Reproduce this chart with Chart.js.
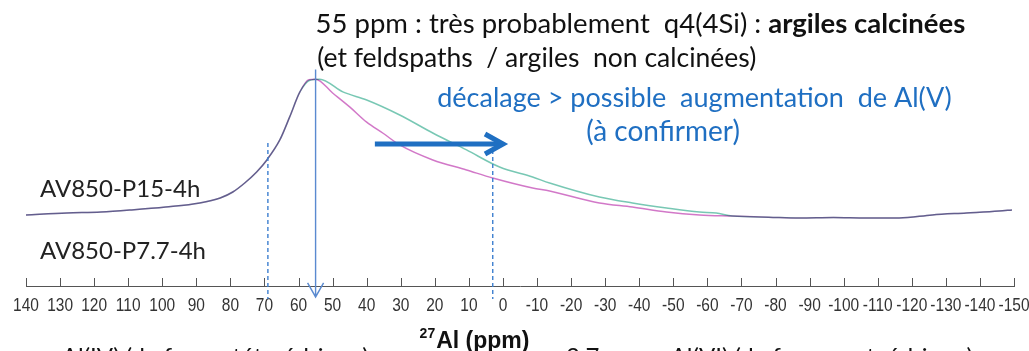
<!DOCTYPE html>
<html>
<head>
<meta charset="utf-8">
<script src="https://cdn.jsdelivr.net/npm/chart.js@4/dist/chart.umd.min.js"></script>
<style>
  html, body { margin: 0; padding: 0; background: #fff; overflow: hidden; }
  #wrap { width: 1029px; height: 351px; position: relative; }
  #nmr { display: block; }
</style>
</head>
<body>
<div id="wrap"><canvas id="nmr"></canvas></div>
<script>
// 27Al MAS NMR spectra, chemical shift in ppm (axis reversed), intensity in a.u.
const shiftShared = [140, 128, 118, 109, 99, 89, 83, 79.3, 75.8, 72.3, 69.3, 65.5, 62.6, 59.6];
const intShared   = [2.2, 3.6, 4.3, 5.8, 7.9, 10.8, 14.4, 18.7, 25.2, 33.1, 41.8, 56.2, 72.8, 90.8];

const shiftP15 = [56.7, 53.8, 47, 40, 30.3, 20.6, 10.7, 1, -8.7, -13.7, -28.3, -38, -48, -57.7, -62.6, -67.3];
const intP15   = [99.2, 100, 90.8, 85, 74.2, 61.2, 49, 36.7, 29.5, 25.2, 15.1, 10.8, 7.2, 4.3, 3.6, 1.4];

const shiftP77 = [57, 55, 50, 45, 40, 35.3, 30.3, 20.6, 10.7, 3, -8.7, -13.7, -28.3, -38, -48, -57.7, -67.3];
const intP77   = [99.6, 100, 90, 80, 69, 61.2, 52.6, 41.8, 34.6, 28.8, 21.6, 19.4, 10.8, 7.9, 4.3, 2.2, 1.4];

const shiftTail = [-78, -87, -97, -106.6, -116.3, -126, -136, -145.6, -149.4];
const intTail   = [0.6, 0, 0.4, 0, 0, 2.2, 3.6, 5, 5.8];

const xTicksMin = -150;
const xTicksMax = 140;

// annotation anchors, in (ppm, a.u.)
const peakShift = 55;
const dashShifts = [69, 3];

function toPoints(xs, ys) {
  return xs.map((x, i) => ({ x: x, y: ys[i] }));
}

const dataP15 = [...toPoints(shiftShared, intShared), ...toPoints(shiftP15, intP15), ...toPoints(shiftTail, intTail)];
const dataP77 = [...toPoints(shiftShared, intShared), ...toPoints(shiftP77, intP77), ...toPoints(shiftTail, intTail)];

const sans = "Lato, 'Open Sans', sans-serif";
const axisFont = "'Liberation Sans', Arial, sans-serif";

// white backdrop so the multiply blend of the two traces works
const backdrop = {
  id: "backdrop",
  beforeDraw(chart) {
    const c = chart.ctx;
    c.save();
    c.fillStyle = "#fff";
    c.fillRect(0, 0, chart.width, chart.height);
    c.restore();
  }
};

// overlapping parts of the traces come out dark, like printed ink
const blend = {
  id: "blend",
  beforeDatasetDraw(chart) {
    chart.ctx.save();
    chart.ctx.globalCompositeOperation = "multiply";
  },
  afterDatasetDraw(chart) {
    chart.ctx.restore();
  }
};

function drawText(c, parts, x, y, align) {
  // parts: [[text, font, color], ...] drawn on one baseline
  let total = 0;
  parts.forEach(p => { c.font = p[1]; total += c.measureText(p[0]).width; });
  let cx = align === "center" ? x - total / 2 : x;
  c.textAlign = "left";
  c.textBaseline = "alphabetic";
  parts.forEach(p => {
    c.font = p[1];
    c.fillStyle = p[2];
    c.fillText(p[0], cx, y);
    cx += c.measureText(p[0]).width;
  });
}

const annotations = {
  id: "annotations",
  afterDraw(chart) {
    const c = chart.ctx;
    const xs = chart.scales.x;
    const ys = chart.scales.y;
    const px = v => xs.getPixelForValue(v);
    const py = v => ys.getPixelForValue(v);
    const axisY = xs.top;

    c.save();

    // tick marks sit on top of the axis line, labels are a little tall
    c.strokeStyle = "#555";
    c.lineWidth = 1;
    c.fillStyle = "#333";
    c.font = "15.5px " + axisFont;
    c.textAlign = "center";
    c.textBaseline = "alphabetic";
    xs.ticks.forEach(t => {
      const x = Math.round(px(t.value)) + 0.5;
      c.beginPath();
      c.moveTo(x, axisY - 8);
      c.lineTo(x, axisY);
      c.stroke();
      c.save();
      c.translate(px(t.value), axisY + 25);
      c.scale(1, 1.17);
      c.fillText(String(t.value), 0, 0);
      c.restore();
    });

    // dashed guides
    c.strokeStyle = "#3d7fd0";
    c.lineWidth = 1.4;
    c.setLineDash([4, 3]);
    [[dashShifts[0], 54], [dashShifts[1], 49]].forEach(d => {
      c.beginPath();
      c.moveTo(px(d[0]), py(d[1]));
      c.lineTo(px(d[0]), py(-58.4));
      c.stroke();
    });
    c.setLineDash([]);

    // vertical arrow at the peak
    const ax = px(peakShift);
    const tipY = py(-56.9);
    c.strokeStyle = "#5a8ad0";
    c.lineWidth = 1.4;
    c.beginPath();
    c.moveTo(ax, py(107));
    c.lineTo(ax, tipY);
    c.moveTo(ax - 8, tipY - 14);
    c.lineTo(ax, tipY);
    c.lineTo(ax + 8, tipY - 14);
    c.stroke();

    // horizontal shift arrow
    const hy = py(53.3);
    const hx0 = px(37.6);
    const hx1 = px(-0.6);
    c.strokeStyle = "#1f6fc2";
    c.lineWidth = 5;
    c.lineCap = "butt";
    c.beginPath();
    c.moveTo(hx0, hy);
    c.lineTo(hx1 - 3, hy);
    c.stroke();
    c.lineJoin = "miter";
    c.beginPath();
    c.moveTo(hx1 - 20, hy - 10);
    c.lineTo(hx1 - 2, hy);
    c.lineTo(hx1 - 20, hy + 10);
    c.stroke();

    // notes
    const black = "#111";
    const blue = "#1f6fc2";
    drawText(c, [["55 ppm : très probablement  q4(4Si) : ", "27.5px " + sans, black],
                 ["argiles calcinées", "bold 27.5px " + sans, black]], px(55), py(133.2), "left");
    drawText(c, [["(et feldspaths  / argiles  non calcinées)", "26.5px " + sans, black]], px(54.5), py(108.7), "left");
    drawText(c, [["décalage > possible  augmentation  de Al(V)", "27px " + sans, blue]], px(-56.2), py(79.9), "center");
    drawText(c, [["(à confirmer)", "28px " + sans, blue]], px(-47), py(55.4), "center");

    drawText(c, [["AV850-P15-4h", "24px " + sans, "#222"]], px(135.9), py(15.1), "left");
    drawText(c, [["AV850-P7.7-4h", "24px " + sans, "#222"]], px(135.9), py(-29.6), "left");

    drawText(c, [["Al(IV) (de forme tétraédrique)", "24px " + sans, black]], px(129.5), py(-106), "left");
    drawText(c, [["2.7 ppm : Al(VI) (de forme octaédrique)", "24px " + sans, black]], px(-18.5), py(-106), "left");

    // axis title with superscript mass number
    const tx = px(8.5);
    const tb = py(-93.7);
    c.font = "bold 23px " + axisFont;
    const wMain = c.measureText("Al (ppm)").width;
    c.font = "bold 14px " + axisFont;
    const wSup = c.measureText("27").width;
    const x0 = tx - (wMain + wSup) / 2;
    c.fillStyle = "#111";
    c.textAlign = "left";
    c.fillText("27", x0, tb - 10);
    c.font = "bold 23px " + axisFont;
    c.fillText("Al (ppm)", x0 + wSup + 1, tb);

    c.restore();
  }
};

new Chart(document.getElementById("nmr"), {
  type: "line",
  data: {
    datasets: [
      {
        label: "AV850-P15-4h",
        data: dataP15,
        borderColor: "#78c8b4",
        borderWidth: 1.5,
        pointRadius: 0,
        cubicInterpolationMode: "monotone",
        fill: false
      },
      {
        label: "AV850-P7.7-4h",
        data: dataP77,
        borderColor: "#d278c8",
        borderWidth: 1.5,
        pointRadius: 0,
        cubicInterpolationMode: "monotone",
        fill: false
      }
    ]
  },
  options: {
    responsive: true,
    maintainAspectRatio: false,
    animation: false,
    layout: { padding: { left: 26, right: 15, top: 0, bottom: 0 } },
    plugins: {
      legend: { display: false },
      tooltip: { enabled: false }
    },
    scales: {
      x: {
        type: "linear",
        reverse: true,
        min: xTicksMin,
        max: xTicksMax,
        afterFit(scale) { scale.height = 65; },
        border: { display: true, color: "#555", width: 1 },
        grid: { display: true, drawOnChartArea: false, drawTicks: false },
        ticks: {
          display: false,
          stepSize: 10,
          autoSkip: false
        }
      },
      y: {
        display: false,
        min: -49,
        max: 157
      }
    }
  },
  plugins: [backdrop, blend, annotations]
});
</script>
</body>
</html>
